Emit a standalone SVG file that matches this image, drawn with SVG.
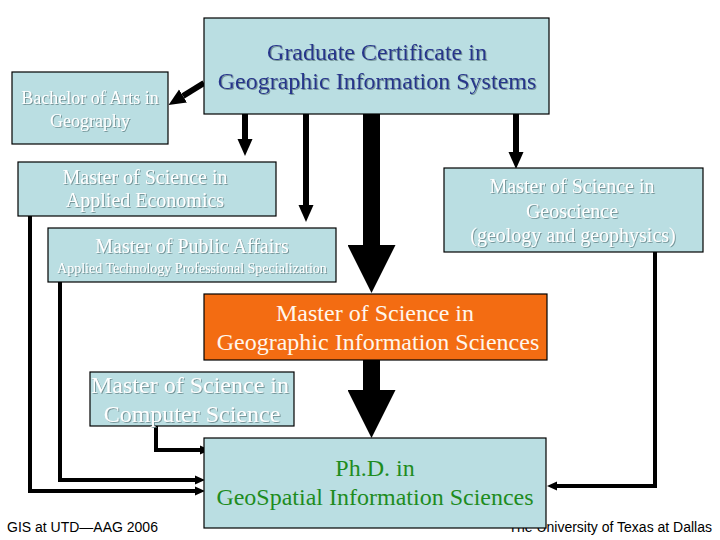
<svg xmlns="http://www.w3.org/2000/svg" width="720" height="540" viewBox="0 0 720 540">
<style>
.box{fill:#badee2;stroke:#000;stroke-width:1.2}
.org{fill:#f36c12;stroke:#000;stroke-width:1.2}
.t{font-family:"Liberation Serif","Times New Roman",serif;text-anchor:middle}
.w{fill:#ffffff;filter:url(#sh)}
.b{fill:#27348b;filter:url(#sh)}
.g{fill:#1e8c1e}
.o{fill:#fff6ec}
.f{font-family:"Liberation Sans",Arial,sans-serif;font-size:14px;fill:#000}
.c{fill:none;stroke:#000;stroke-linejoin:miter}
.c4{stroke-width:4}
.c6{stroke-width:6}
.c17{stroke-width:17}
</style>
<defs>
<filter id="sh" x="-5%" y="-20%" width="110%" height="140%">
<feDropShadow dx="1" dy="1" stdDeviation="0.6" flood-color="#6f8f93" flood-opacity="0.9"/>
</filter>
<marker id="as" markerUnits="userSpaceOnUse" markerWidth="10" markerHeight="10" refX="0" refY="5" orient="auto">
<path d="M0,0.5 L10,5 L0,9.5 z" fill="#000"/>
</marker>
<marker id="am" markerUnits="userSpaceOnUse" markerWidth="17" markerHeight="16" refX="0" refY="8" orient="auto">
<path d="M0,0.5 L17,8 L0,15.5 z" fill="#000"/>
</marker>
<marker id="al" markerUnits="userSpaceOnUse" markerWidth="48" markerHeight="48" refX="0" refY="24" orient="auto">
<path d="M0,0 L48,24 L0,48 z" fill="#000"/>
</marker>
</defs>
<rect width="720" height="540" fill="#fff"/>
<g id="footer">
<text class="f" x="7" y="532">GIS at UTD—AAG 2006</text>
<text class="f" x="712" y="532" text-anchor="end">The University of Texas at Dallas</text>
</g>
<g id="connectors">
<path class="c c6" d="M204,83 L183,96" marker-end="url(#am)"/>
<path class="c c6" d="M245,114 L245,139" marker-end="url(#am)"/>
<path class="c c6" d="M306,114 L306,205" marker-end="url(#am)"/>
<path class="c c6" d="M516,114 L516,152" marker-end="url(#am)"/>
<path class="c c17" d="M371.5,114 L371.5,245" marker-end="url(#al)"/>
<path class="c c17" d="M371.5,360 L371.5,390" marker-end="url(#al)"/>
<path class="c c4" d="M30,216 L30,491 L195,491" marker-end="url(#as)"/>
<path class="c c4" d="M60,282 L60,480 L195,480" marker-end="url(#as)"/>
<path class="c c4" d="M156,426 L156,450 L200,450" marker-end="url(#as)"/>
<path class="c c4" d="M655,252 L655,486 L557,486" marker-end="url(#as)"/>
</g>
<g id="n-cert">
<rect class="box" x="204" y="18" width="345" height="96"/>
<text class="t b" x="377" y="60" font-size="24">Graduate Certificate in</text>
<text class="t b" x="377" y="89" font-size="24">Geographic Information Systems</text>
</g>
<g id="n-ba">
<rect class="box" x="12" y="72" width="156" height="72"/>
<text class="t w" x="90" y="104" font-size="18">Bachelor of Arts in</text>
<text class="t w" x="90" y="127" font-size="18">Geography</text>
</g>
<g id="n-msae">
<rect class="box" x="18" y="162" width="258" height="54"/>
<text class="t w" x="145" y="184" font-size="20">Master of Science in</text>
<text class="t w" x="145" y="207" font-size="20">Applied Economics</text>
</g>
<g id="n-mpa">
<rect class="box" x="48" y="228" width="288" height="54"/>
<text class="t w" x="192" y="253" font-size="20">Master of Public Affairs</text>
<text class="t w" x="192" y="273" font-size="14">Applied Technology Professional Specialization</text>
</g>
<g id="n-msgeo">
<rect class="box" x="444" y="168" width="259" height="84"/>
<text class="t w" x="572" y="193" font-size="20">Master of Science in</text>
<text class="t w" x="572" y="218" font-size="20">Geoscience</text>
<text class="t w" x="573" y="242" font-size="20">(geology and geophysics)</text>
</g>
<g id="n-msgis">
<rect class="org" x="204" y="294" width="343" height="66"/>
<text class="t o" x="375" y="321" font-size="24">Master of Science in</text>
<text class="t o" x="378" y="350" font-size="24">Geographic Information Sciences</text>
</g>
<g id="n-mscs">
<rect class="box" x="90" y="372" width="204" height="54"/>
<text class="t w" x="190" y="393" font-size="24">Master of Science in</text>
<text class="t w" x="192" y="422" font-size="24">Computer Science</text>
</g>
<g id="n-phd">
<rect class="box" x="204" y="438" width="342" height="90"/>
<text class="t g" x="375" y="476" font-size="24">Ph.D. in</text>
<text class="t g" x="375" y="505" font-size="24">GeoSpatial Information Sciences</text>
</g>
</svg>
